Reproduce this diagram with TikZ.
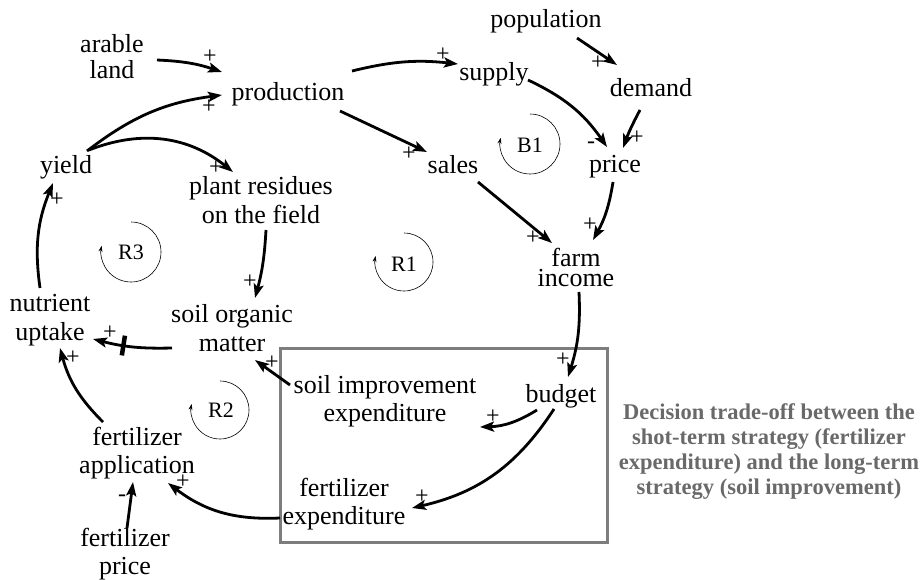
\documentclass[tikz,border=0pt]{standalone}
\usepackage{fontspec}
\setmainfont{Liberation Serif}
\usetikzlibrary{arrows.meta,calc}
\definecolor{boxgray}{RGB}{125,125,125}
\definecolor{txtgray}{RGB}{105,105,105}
\begin{document}
\begin{tikzpicture}[x=1pt,y=-1pt,
  var/.style={inner sep=0pt,align=center,font=\fontsize{26}{28.5}\selectfont},
  sgn/.style={inner sep=0pt,font=\fontsize{24}{24}\selectfont},
  looplbl/.style={inner sep=0pt,font=\fontsize{22}{22}\selectfont},
  arr/.style={line width=2.8pt,-{Stealth[length=14pt,width=10pt,inset=3pt]}},
  loopc/.style={line width=0.6pt,-{Stealth[length=6pt,width=4pt]}},
  delaybar/.style={fill=black,inner sep=0pt,minimum width=4.5pt,minimum height=20pt}
]
\useasboundingbox (0,0) rectangle (922,579);
% variables
\node[var] (arable) at (112,57) {arable\\[-2.5pt]land};
\node[var] (prod) at (288,94) {production};
\node[var] (pop) at (546,21) {population};
\node[var] (supply) at (494,74) {supply};
\node[var] (demand) at (651,88) {demand};
\node[var] (price) at (615,167) {price};
\node[var] (sales) at (453,165) {sales};
\node[var,font=\fontsize{26}{20}\selectfont] (farm) at (576,267) {farm\\income};
\node[var] (yield) at (66,167) {yield};
\node[var] (plant) at (261,200) {plant residues\\on the field};
\node[var] (nutr) at (50,320) {nutrient\\uptake};
\node[var] (som) at (232,328) {soil organic\\matter};
\node[var] (sie) at (385,401) {soil improvement\\expenditure};
\node[var] (fapp) at (137,453) {fertilizer\\application};
\node[var] (fprice) at (125,554) {fertilizer\\price};
\node[var] (fexp) at (344,504) {fertilizer\\expenditure};
\node[var] (budget) at (561,396) {budget};
% decision box and text
\draw[boxgray,line width=3pt] (280,348) rectangle (607,542);
\node[inner sep=0pt,align=center,text=txtgray,font=\bfseries\fontsize{22.5}{25}\selectfont] (decision) at (769,452)
  {Decision trade-off between the\\shot-term strategy (fertilizer\\expenditure) and the long-term\\strategy (soil improvement)};
% links
\draw[arr] ($(arable)+(45,3)$) to[bend left=8] ($(prod)+(-66,-22)$);
\draw[arr] ($(yield)+(21,-16)$) to[bend left=15] ($(prod)+(-66,1)$);
\draw[arr] ($(yield)+(23,-17)$) to[bend left=30] ($(plant)+(-28,-28)$);
\draw[arr] ($(prod)+(64,-23)$) to[bend left=10] ($(supply)+(-36,-10)$);
\draw[arr] ($(prod)+(52,17)$) -- ($(sales)+(-26,-13)$);
\draw[arr] ($(pop)+(31,17)$) -- ($(demand)+(-34,-23)$);
\draw[arr] ($(supply)+(34,6)$) to[bend left=15] ($(price)+(-8,-20)$);
\draw[arr] ($(demand)+(-11,22)$) to[bend right=4] ($(price)+(8,-19)$);
\draw[arr] ($(price)+(-2,15)$) to[bend left=10] ($(farm)+(17,-27)$);
\draw[arr] ($(sales)+(25,17)$) -- ($(farm)+(-24,-24)$);
\draw[arr] ($(farm)+(3,25)$) to[bend left=10] ($(budget)+(7,-19)$);
\draw[arr] ($(budget)+(-24,14)$) to[bend left=15] ($(sie)+(95,26)$);
\draw[arr] ($(budget)+(-7,13)$) to[bend left=22] ($(fexp)+(68,4)$);
\draw[arr] ($(fexp)+(-64,14)$) to[bend left=20] ($(fapp)+(31,30)$);
\draw[arr] ($(fprice)+(2,-26)$) -- ($(fapp)+(-4,29)$);
\draw[arr] ($(fapp)+(-34,-31)$) to[bend left=15] ($(nutr)+(10,28)$);
\draw[arr] ($(som)+(-60,20)$) to[bend left=8] node[pos=0.62,sloped,delaybar] (delay) {} ($(nutr)+(43,19)$);
\draw[arr] ($(sie)+(-95,-16)$) -- ($(som)+(23,32)$);
\draw[arr] ($(plant)+(5,30)$) to[bend left=6] ($(som)+(23,-30)$);
\draw[arr] ($(nutr)+(-10,-32)$) to[bend left=15] ($(yield)+(-13,16)$);
% polarity signs
\node[sgn] (s1) at (210,57) {+};
\node[sgn] (s2) at (209,107) {+};
\node[sgn] (s3) at (216,168) {+};
\node[sgn] (s4) at (443,55) {+};
\node[sgn] (s5) at (409,154) {+};
\node[sgn] (s6) at (598,63) {+};
\node[sgn] (s7) at (591,145) {-};
\node[sgn] (s8) at (637,138) {+};
\node[sgn] (s9) at (590,225) {+};
\node[sgn] (s10) at (533,238) {+};
\node[sgn] (s11) at (563,360) {+};
\node[sgn] (s12) at (493,417) {+};
\node[sgn] (s13) at (422,497) {+};
\node[sgn] (s14) at (183,482) {+};
\node[sgn] (s15) at (122,498) {-};
\node[sgn] (s16) at (73,358) {+};
\node[sgn] (s17) at (110,333) {+};
\node[sgn] (s18) at (272,363) {+};
\node[sgn] (s19) at (250,282) {+};
\node[sgn] (s20) at (57,200) {+};
% loop markers
\draw[loopc] (131,222) arc[start angle=-90,end angle=192,radius=30];
\node[looplbl] (R3) at (131,252) {R3};
\draw[loopc] (404,233) arc[start angle=-90,end angle=192,radius=29];
\node[looplbl] (R1) at (404,264) {R1};
\draw[loopc] (530,114) arc[start angle=-90,end angle=192,radius=30];
\node[looplbl] (B1) at (530,145) {B1};
\draw[loopc] (220,381) arc[start angle=-90,end angle=192,radius=29];
\node[looplbl] (R2) at (221,410) {R2};
\end{tikzpicture}
\end{document}
